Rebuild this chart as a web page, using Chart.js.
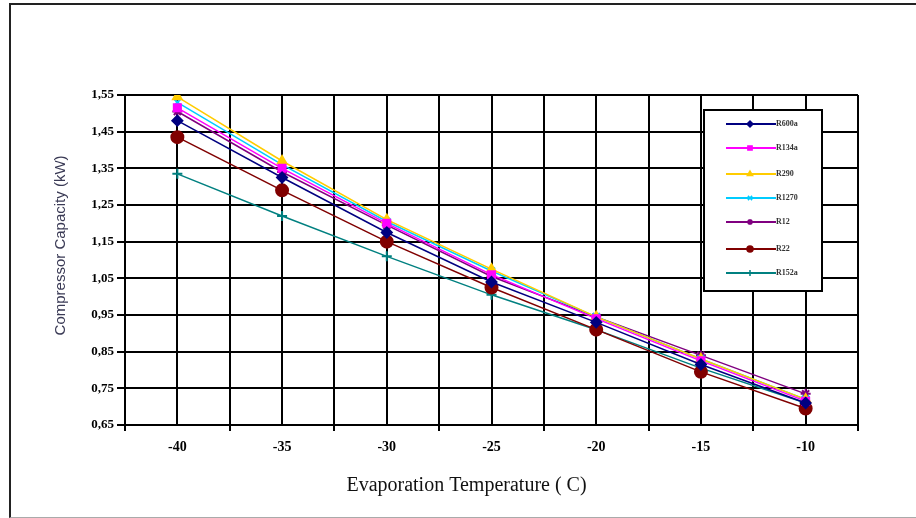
<!DOCTYPE html>
<html>
<head>
<meta charset="utf-8">
<script src="https://cdn.jsdelivr.net/npm/chart.js@4.4.1/dist/chart.umd.min.js"></script>
<style>
  html, body { margin: 0; padding: 0; background: #fff; }
  #wrap { position: relative; width: 916px; height: 518px; overflow: hidden; }
  #frame { position: absolute; left: 9px; top: 3px; width: 1000px; height: 512px;
           border-left: 2px solid #222; border-top: 2px solid #222; border-bottom: 1px solid #aaa; }
  canvas { position: absolute; left: 0; top: 0; }
</style>
</head>
<body>
<div id="wrap">
  <div id="frame"></div>
  <canvas id="chart" width="916" height="518"></canvas>
</div>
<script>
// Compressor capacity vs evaporation temperature

const temps = [-40, -35, -30, -25, -20, -15, -10];
const yTicks = [0.65, 0.75, 0.85, 0.95, 1.05, 1.15, 1.25, 1.35, 1.45, 1.55];

const r600a = [1.48, 1.325, 1.175, 1.04, 0.93, 0.815, 0.71];
const r134a = [1.515, 1.35, 1.20, 1.06, 0.94, 0.825, 0.715];
const r290 = [1.545, 1.37, 1.21, 1.075, 0.945, 0.83, 0.72];
const r1270 = [1.53, 1.36, 1.205, 1.07, 0.945, 0.83, 0.72];
const r12 = [1.505, 1.34, 1.195, 1.055, 0.945, 0.84, 0.735];
const r22 = [1.435, 1.29, 1.15, 1.025, 0.91, 0.795, 0.695];
const r152a = [1.335, 1.22, 1.11, 1.005, 0.91, 0.805, 0.71];

const names = ['R600a', 'R134a', 'R290', 'R1270', 'R12', 'R22', 'R152a'];
const colors = ['#000080', '#ff00ff', '#ffcc00', '#00ccff', '#800080', '#800000', '#008080'];
const styles = ['rectRot', 'rect', 'triangle', 'crossRot', 'star', 'circle', 'cross'];
const series = [r600a, r134a, r290, r1270, r12, r22, r152a];

const datasets = series.map((vals, i) => ({
  label: names[i],
  data: vals.map((v, j) => ({ x: temps[j], y: v })),
  borderColor: colors[i],
  backgroundColor: colors[i],
  borderWidth: 1.5,
  pointStyle: styles[i],
  pointRadius: styles[i] === 'circle' ? 6 : 5,
  pointBorderWidth: 2,
  tension: 0
}));

// legend box drawn inside the plot, like the original
const boxLegend = {
  id: 'boxLegend',
  afterDraw(chart) {
    const ctx = chart.ctx;
    const x0 = 704, y0 = 110, w = 118, h = 181;
    const rows = [124, 148, 174, 198, 222, 249, 273];
    ctx.save();
    ctx.fillStyle = '#fff';
    ctx.fillRect(x0, y0, w, h);
    ctx.strokeStyle = '#000';
    ctx.lineWidth = 2;
    ctx.strokeRect(x0, y0, w, h);
    chart.data.datasets.forEach((ds, i) => {
      const y = rows[i];
      ctx.strokeStyle = ds.borderColor;
      ctx.lineWidth = 2;
      ctx.beginPath();
      ctx.moveTo(726, y);
      ctx.lineTo(776, y);
      ctx.stroke();
      ctx.fillStyle = ds.backgroundColor;
      ctx.lineWidth = 1.5;
      Chart.helpers.drawPoint(ctx, { pointStyle: ds.pointStyle, radius: 3, borderWidth: 1.5, rotation: 0 }, 750, y);
      ctx.fillStyle = '#333';
      ctx.font = 'bold 8px "Liberation Serif"';
      ctx.textBaseline = 'middle';
      ctx.fillText(ds.label, 776, y);
    });
    ctx.restore();
  }
};

new Chart(document.getElementById('chart'), {
  type: 'line',
  data: { datasets },
  plugins: [boxLegend],
  options: {
    responsive: false,
    animation: false,
    layout: { padding: { left: 52, right: 58, top: 95, bottom: 20 } },
    plugins: { legend: { display: false }, tooltip: { enabled: false } },
    scales: {
      x: {
        type: 'linear',
        min: -42.5,
        max: -7.5,
        afterFit: s => { s.height = 73; },
        afterBuildTicks: s => {
          const t = [];
          for (let v = -42.5; v <= -7.5; v += 2.5) t.push({ value: v });
          s.ticks = t;
        },
        grid: {
          color: '#000',
          lineWidth: 2,
          tickLength: 6,
          tickColor: c => (Math.abs(c.tick.value % 5) === 2.5 ? '#000' : 'rgba(0,0,0,0)')
        },
        border: { color: '#000', width: 2 },
        ticks: {
          autoSkip: false,
          maxRotation: 0,
          padding: 8,
          color: '#000',
          font: { family: '"Liberation Serif"', size: 14, weight: 'bold' },
          callback: v => (v % 5 === 0 ? String(v) : '')
        },
        title: {
          display: true,
          text: 'Evaporation Temperature ( C)          ',
          color: '#111',
          font: { family: '"Liberation Serif"', size: 20 },
          padding: { top: 0, bottom: 0 }
        }
      },
      y: {
        min: 0.65,
        max: 1.55,
        afterFit: s => { s.width = 73; },
        afterBuildTicks: s => { s.ticks = yTicks.map(v => ({ value: v })); },
        grid: { color: '#000', lineWidth: 2, tickLength: 8 },
        border: { color: '#000', width: 2 },
        ticks: {
          padding: 3,
          color: '#000',
          font: { family: '"Liberation Serif"', size: 13, weight: 'bold' },
          callback: v => v.toFixed(2).replace('.', ',')
        },
        title: {
          display: true,
          text: '       Compressor Capacity (kW)',
          color: '#3a3a55',
          font: { family: '"Liberation Sans"', size: 15 },
          padding: { top: 0, bottom: 0 }
        }
      }
    }
  }
});
</script>
</body>
</html>
